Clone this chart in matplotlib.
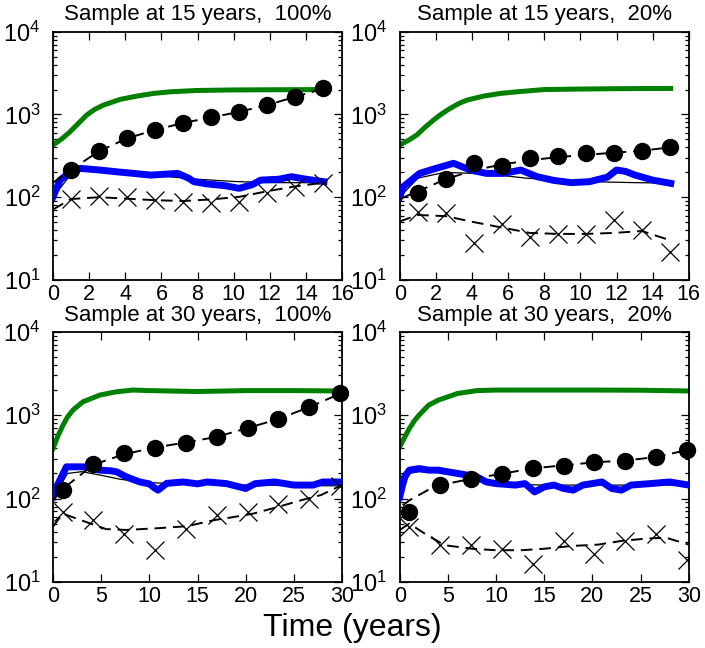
import numpy as np
import matplotlib
matplotlib.use('Agg')
import matplotlib.pyplot as plt
from matplotlib.ticker import LogLocator, NullLocator, MultipleLocator

plt.rcParams['font.family'] = ['Liberation Sans', 'DejaVu Sans']
plt.rcParams['mathtext.fontset'] = 'custom'
plt.rcParams['mathtext.rm'] = 'Liberation Sans'
plt.rcParams['mathtext.it'] = 'Liberation Sans:italic'

# ---- sample times of the markers
circ_t15 = [1, 2.55, 4.1, 5.65, 7.2, 8.75, 10.3, 11.85, 13.4, 14.95]
circ_t30 = [1, 4.2, 7.4, 10.6, 13.8, 17, 20.2, 23.4, 26.6, 29.8]

# ---- top left: sample at 15 years, 100%
tl_green_t = [0, 0.5, 0.94, 1.4, 1.86, 2.3, 2.79, 3.71, 4.63, 5.55, 6.48, 7.95, 10, 12, 15]
tl_green = [427, 510, 618, 780, 984, 1150, 1298, 1521, 1667, 1796, 1879, 1950, 1980, 1990, 2000]
tl_blue_t = [0, 0.39, 1, 1.5, 2.6, 3.5, 4.45, 5.4, 6.9, 7.5, 7.8, 8.5, 9.5, 10.3, 11, 11.5, 12.5, 13.2, 14, 15]
tl_blue = [101, 161, 205, 223, 213, 203, 194, 185, 194, 170, 154, 145, 138, 128, 141, 161, 165, 177, 165, 154]
tl_model_t = [0, 1, 2, 4, 6, 8, 10, 12, 15]
tl_model = [100, 190, 220, 200, 180, 165, 155, 150, 150]
tl_circ = [213, 365, 523, 648, 794, 923, 1078, 1300, 1637, 2065]
tl_cross = [94, 104, 100, 93, 88, 84, 88, 114, 134, 147]
tl_fitc_t = [0, 1, 2.55, 4.1, 5.65, 7.2, 8.75, 10.3, 11.85, 13.4, 14.95]
tl_fitc = [150, 215, 360, 515, 650, 790, 920, 1075, 1300, 1630, 2050]
tl_fitx_t = [0, 1, 2.55, 4.1, 5.65, 7.2, 8.75, 10.3, 11.85, 13.4, 15]
tl_fitx = [71, 95, 100, 96, 92, 90, 94, 101, 118, 135, 150]

# ---- top right: sample at 15 years, 20%
tr_green_t = [0, 0.5, 0.94, 1.4, 1.87, 2.3, 2.79, 3.25, 3.72, 4.64, 5.56, 6.49, 7.97, 10, 12, 15]
tr_green = [427, 490, 564, 700, 856, 1010, 1186, 1350, 1493, 1667, 1796, 1879, 2000, 2030, 2050, 2065]
tr_blue_t = [0, 0.2, 1.1, 2.0, 2.98, 3.9, 4.8, 5.75, 6.7, 7.6, 8.5, 9.5, 10.5, 11.5, 12, 12.5, 13, 14, 15]
tr_blue = [101, 134, 194, 223, 257, 213, 194, 194, 213, 177, 160, 150, 154, 175, 213, 205, 186, 161, 147]
tr_model_t = [0, 1, 2.5, 5, 7, 10, 13, 15]
tr_model = [100, 170, 200, 190, 170, 155, 150, 148]
tr_circ = [111, 166, 257, 241, 295, 318, 339, 345, 365, 408]
tr_cross = [66, 64, 28, 47.5, 33, 36, 36, 53, 40, 22]
tr_fitc_t = [0, 1, 2.55, 4.1, 5.65, 7.2, 8.75, 10.3, 11.85, 13.4, 14.95]
tr_fitc = [95, 118, 165, 212, 248, 280, 305, 325, 345, 365, 400]
tr_fitx_t = [0, 1, 2.55, 4.1, 5.65, 7.2, 8.75, 10.3, 11.85, 13.4, 15]
tr_fitx = [51, 61, 59, 50, 43, 37, 36, 36, 37, 39, 30]

# ---- bottom left: sample at 30 years, 100%
bl_green_t = [0, 0.5, 1.04, 1.5, 2.08, 3.1, 4.86, 6.6, 8.3, 10, 15, 20, 25, 30]
bl_green = [398, 560, 760, 950, 1153, 1445, 1742, 1909, 2000, 1970, 1920, 1970, 1970, 1950]
bl_blue_t = [0, 0.2, 1.39, 3.1, 4.86, 6, 6.6, 7.6, 9.0, 10, 10.5, 10.9, 11.8, 13.5, 15, 16, 18, 20,
             21, 23, 25, 27, 28, 30]
bl_blue = [105, 126, 240, 240, 219, 215, 209, 182, 158, 150, 135, 126, 152, 158, 150, 158, 151, 132,
           151, 158, 145, 145, 158, 158]
bl_model_t = [0, 1.5, 3, 5, 7, 10, 15, 20, 25, 30]
bl_model = [100, 200, 210, 190, 170, 155, 148, 145, 143, 142]
bl_circ = [126, 263, 347, 409, 466, 540, 705, 895, 1259, 1854]
bl_cross = [69, 55, 38, 24, 43.6, 63, 69, 87, 100, 140]
bl_fitc_t = [0, 1, 4.2, 7.4, 10.6, 13.8, 17, 20.2, 23.4, 26.6, 30]
bl_fitc = [95, 130, 255, 340, 410, 470, 550, 700, 900, 1250, 1850]
bl_fitx_t = [0, 1, 3.5, 5.5, 7.6, 10.8, 13.9, 16.7, 18.75, 20.8, 23.3, 25.7, 27.8, 30]
bl_fitx = [46, 66, 52, 43, 42, 44, 46.5, 55, 60, 66, 79, 95, 110, 145]

# ---- bottom right: sample at 30 years, 20%
br_green_t = [0, 0.5, 1, 1.5, 2, 3, 4, 5, 6, 8, 10, 15, 20, 25, 30]
br_green = [417, 540, 692, 850, 1000, 1318, 1514, 1660, 1820, 1970, 2000, 2000, 2000, 1990, 1950]
br_blue_t = [0, 0.5, 1, 2, 3, 4, 5, 6, 8, 9, 10, 12, 13, 14, 15, 16, 17, 18, 19, 21, 22, 23, 24, 26, 28, 30]
br_blue = [105, 182, 219, 229, 219, 219, 209, 200, 182, 158, 151, 145, 151, 120, 138, 145, 132, 126,
           145, 158, 132, 126, 145, 151, 158, 145]
br_model_t = [0, 1, 2, 4, 6, 8, 10, 12, 15, 30]
br_model = [100, 200, 210, 205, 190, 170, 155, 148, 145, 145]
br_circ = [69, 145, 171, 196, 235, 247, 275, 283, 316, 380]
br_cross = [46, 27.5, 28, 25, 16.6, 31, 21.4, 31, 38, 18.2]
br_fitc_t = [0.3, 1, 2.9, 4.2, 7.4, 10.6, 13.8, 17, 20.2, 23.4, 26.6, 30]
br_fitc = [83, 95, 126, 145, 172, 198, 230, 250, 272, 285, 315, 385]
br_fitx_t = [0, 1, 2.9, 4.7, 7.5, 9.9, 12.7, 15, 17.9, 20.6, 23, 25.5, 27.6, 30]
br_fitx = [42, 50, 36, 27.5, 25, 24, 24, 25, 27, 28, 31, 33, 34, 28]

titles = ['Sample at 15 years,  100%', 'Sample at 15 years,  20%',
          'Sample at 30 years,  100%', 'Sample at 30 years,  20%']

panels = [
    (tl_green_t, tl_green, tl_blue_t, tl_blue, tl_model_t, tl_model, circ_t15, tl_circ, tl_cross,
     tl_fitc_t, tl_fitc, tl_fitx_t, tl_fitx),
    (tr_green_t, tr_green, tr_blue_t, tr_blue, tr_model_t, tr_model, circ_t15, tr_circ, tr_cross,
     tr_fitc_t, tr_fitc, tr_fitx_t, tr_fitx),
    (bl_green_t, bl_green, bl_blue_t, bl_blue, bl_model_t, bl_model, circ_t30, bl_circ, bl_cross,
     bl_fitc_t, bl_fitc, bl_fitx_t, bl_fitx),
    (br_green_t, br_green, br_blue_t, br_blue, br_model_t, br_model, circ_t30, br_circ, br_cross,
     br_fitc_t, br_fitc, br_fitx_t, br_fitx),
]

# axes rectangles in figure fractions (left, bottom, width, height)
rects = [(0.0752, 0.568, 0.410, 0.383), (0.567, 0.568, 0.410, 0.383),
         (0.0752, 0.102, 0.410, 0.386), (0.567, 0.102, 0.410, 0.386)]
xmax = [16, 16, 30, 30]
xstep = [2, 2, 5, 5]
title_pad = [8.5, 8.5, 8, 8]

fig = plt.figure(figsize=(7.05, 6.48), dpi=100)

for i, p in enumerate(panels):
    (gt, g, bt, b, mt, m, ct, c, x, fct, fc, fxt, fx) = p
    ax = fig.add_axes(rects[i])
    ax.set_yscale('log')
    ax.plot(gt, g, color='#008000', lw=3.6, solid_joinstyle='round', zorder=2)
    ax.plot(bt, b, color='#0000ff', lw=5.0, solid_joinstyle='round', zorder=3)
    ax.plot(mt, m, color='black', lw=0.9, zorder=2.5)
    ax.plot(fct, fc, color='black', lw=1.4, dashes=(6, 3.5), zorder=4)
    ax.plot(fxt, fx, color='black', lw=1.4, dashes=(6, 3.5), zorder=4)
    ax.plot(ct, c, 'o', color='black', ms=11.5, zorder=5, clip_on=False)
    ax.plot(ct, x, 'x', color='black', ms=13, mew=0.9, zorder=5)

    ax.set_xlim(0, xmax[i])
    ax.set_ylim(10, 1e4)
    ax.xaxis.set_major_locator(MultipleLocator(xstep[i]))
    ax.xaxis.set_minor_locator(NullLocator())
    ax.yaxis.set_major_locator(LogLocator(base=10, numticks=10))
    ax.yaxis.set_minor_locator(LogLocator(base=10, subs=np.arange(2, 10), numticks=20))
    ax.tick_params(which='both', direction='in', top=True, right=True, width=0.9)
    ax.tick_params(which='major', length=6)
    ax.tick_params(which='minor', length=3)
    ax.tick_params(axis='x', labelsize=15.5, pad=3)
    ax.tick_params(axis='y', labelsize=17, pad=9)
    for s in ax.spines.values():
        s.set_linewidth(1.3)
    ax.set_title(titles[i], fontsize=16, pad=title_pad[i])

fig.text(0.5, 0.031, 'Time (years)', ha='center', va='center', fontsize=23)

fig.savefig('out.png', dpi=100)
